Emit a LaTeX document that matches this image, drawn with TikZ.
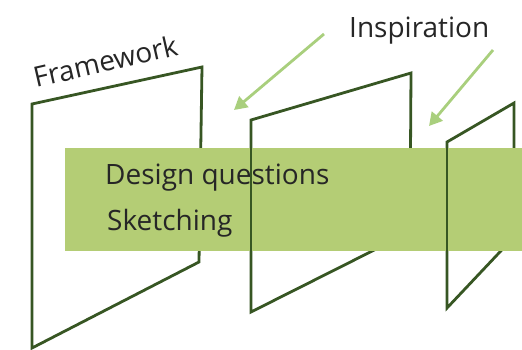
\documentclass[tikz,border=0pt]{standalone}
\usepackage{fontspec}
\setmainfont{Open Sans}
\usetikzlibrary{arrows.meta}
\definecolor{framegreen}{RGB}{55,86,35}
\definecolor{boxgreen}{RGB}{180,205,117}
\definecolor{arrowgreen}{RGB}{169,207,125}
\definecolor{txt}{RGB}{38,38,38}
\begin{document}
\begin{tikzpicture}[x=1pt,y=-1pt,
  frame/.style={draw=framegreen, line width=2.8pt, line join=miter},
  arrowline/.style={draw=arrowgreen, line width=2.8pt, -{Triangle[length=13pt,width=14pt]}},
  label/.style={text=txt, inner sep=0pt, anchor=base west, font=\fontsize{28}{32}\selectfont}]
\useasboundingbox (0,0) rectangle (522,349);
% frames
\draw[frame] (32,104) -- (202,67) -- (199,262) -- (32,348) -- cycle;
\draw[frame] (251,120) -- (411,73) -- (410,232) -- (251,312) -- cycle;
\draw[frame] (447,142) -- (514,103) -- (514,237) -- (447,308) -- cycle;
% band
\node[fill=boxgreen, inner sep=0pt, minimum width=457pt, minimum height=103pt, anchor=north west] (band) at (65,148) {};
\node[label] (dq) at (105,184) {Design questions};
\node[label] (sk) at (107,230) {Sketching};
% left edges in front
\draw[frame] (251,118.6) -- (251,313.4);
\draw[frame] (447,140.6) -- (447,309.4);
% labels
\node[label, rotate=13] (fw) at (36,88) {Framework};
\node[label] (insp) at (349,37) {Inspiration};
% arrows
\coordinate (a1s) at (324,34);
\coordinate (a1e) at (234,110);
\coordinate (a2s) at (493,50);
\coordinate (a2e) at (429,126);
\draw[arrowline] (a1s) -- (a1e);
\draw[arrowline] (a2s) -- (a2e);
\end{tikzpicture}
\end{document}
